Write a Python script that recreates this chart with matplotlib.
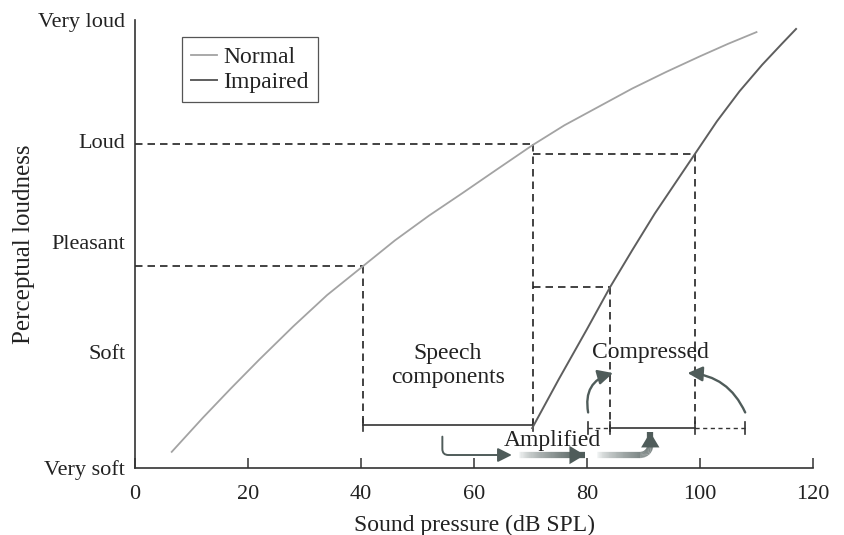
import numpy as np
import matplotlib
matplotlib.use('Agg')
import matplotlib.pyplot as plt
from matplotlib.collections import LineCollection
from matplotlib.colors import to_rgb

# Loudness growth curves (dB SPL vs perceptual loudness 0-100)
normal_db = [6.5, 12, 17, 22, 28, 34, 40.4, 46, 52, 58, 64, 70.4, 76, 82, 88, 94, 100, 105, 110]
normal_loud = [3.6, 11.2, 17.8, 24.2, 31.6, 38.6, 45.1, 50.8, 56.3, 61.4, 66.6, 72.1,
               76.5, 80.6, 84.7, 88.4, 91.9, 94.7, 97.3]
impaired_db = [70.3, 75, 80, 84.1, 88, 92, 96, 99.1, 103, 107, 111, 114.5, 117]
impaired_loud = [8.9, 19.8, 31.0, 40.4, 48.6, 56.8, 64.3, 70.1, 77.4, 84.1, 90.0, 94.7, 98.0]

loud_labels = ['Very soft', 'Soft', 'Pleasant', 'Loud', 'Very loud']
loud_levels = [0, 26, 50.5, 73, 100]
db_ticks = [0, 20, 40, 60, 80, 100, 120]

# Speech range and where it lands after amplification
speech_lo, speech_hi = 40.4, 70.4
comp_lo, comp_hi = 84.1, 99.1
amp_lo, amp_hi = 80.2, 108.0
pleasant_normal = 45.1
loud_normal = 72.3
pleasant_imp = 40.4
loud_imp = 70.1

INK = '#222222'
ARROW = '#4f5c5a'
FONT = 'Liberation Serif'
FS = 16
FS_BIG = 17

plt.rcParams['font.family'] = [FONT, 'DejaVu Serif']

fig = plt.figure(figsize=(8.44, 5.35), dpi=100)
ax = fig.add_axes([135 / 844, 1 - 468 / 535, 678 / 844, 448 / 535])
ax.set_xlim(0, 120)
ax.set_ylim(0, 100)

# curves
ax.plot(normal_db, normal_loud, color='#a3a3a3', lw=1.3, label='Normal', zorder=3)
ax.plot(impaired_db, impaired_loud, color='#5e5e5e', lw=1.4, label='Impaired', zorder=3)

dash = dict(color=INK, lw=1.2, ls=(0, (4.5, 3)))
brk_y = 9.6
# normal-ear guides
ax.plot([0, speech_lo], [pleasant_normal, pleasant_normal], **dash)
ax.plot([speech_lo, speech_lo], [pleasant_normal, brk_y], **dash)
ax.plot([0, speech_hi], [loud_normal, loud_normal], **dash)
ax.plot([speech_hi, speech_hi], [loud_normal, brk_y], **dash)
# impaired-ear guides
ax.plot([speech_hi, comp_hi], [loud_imp, loud_imp], **dash)
ax.plot([comp_hi, comp_hi], [loud_imp, brk_y - 0.6], **dash)
ax.plot([speech_hi, comp_lo], [pleasant_imp, pleasant_imp], **dash)
ax.plot([comp_lo, comp_lo], [pleasant_imp, brk_y - 2.0], **dash)

# range brackets
solid = dict(color='#333333', lw=1.2)
tick_h = 1.4
ax.plot([speech_lo, speech_hi], [brk_y, brk_y], **solid)
for x in (speech_lo, speech_hi):
    ax.plot([x, x], [brk_y - tick_h, brk_y + tick_h], **solid)
by2 = brk_y - 0.7
ax.plot([comp_lo, comp_hi], [by2, by2], **solid)
ax.plot([amp_lo, comp_lo], [by2, by2], color='#333333', lw=1.0, ls=(0, (3, 2.5)))
ax.plot([comp_hi, amp_hi], [by2, by2], color='#333333', lw=1.0, ls=(0, (3, 2.5)))
for x in (amp_lo, comp_lo, comp_hi, amp_hi):
    ax.plot([x, x], [by2 - tick_h, by2 + tick_h], **solid)

# labels in the plot
ax.text(55.4, 22.8, 'Speech\ncomponents', ha='center', va='center',
        fontsize=FS_BIG, color=INK, linespacing=1.2)
ax.text(91.2, 25.7, 'Compressed', ha='center', va='center', fontsize=FS_BIG, color=INK)
ax.text(73.8, 6.1, 'Amplified', ha='center', va='center', fontsize=FS_BIG, color=INK, zorder=5)

thin_head = '-|>,head_length=0.6,head_width=0.3'

# thin arrow: speech components -> amplifier
ax.annotate('', xy=(66.7, 2.9), xytext=(54.4, 7.0),
            arrowprops=dict(arrowstyle=thin_head, color=ARROW, lw=1.4, mutation_scale=14,
                            connectionstyle='angle,angleA=-90,angleB=180,rad=6',
                            shrinkA=0, shrinkB=0))

# curved arrows into the compressed range
ax.annotate('', xy=(84.6, 21.2), xytext=(80.2, 12.4),
            arrowprops=dict(arrowstyle=thin_head, color=ARROW, lw=1.7, mutation_scale=15,
                            connectionstyle='arc3,rad=-0.45', shrinkA=0, shrinkB=0))
ax.annotate('', xy=(97.8, 21.2), xytext=(108.0, 12.4),
            arrowprops=dict(arrowstyle=thin_head, color=ARROW, lw=1.7, mutation_scale=15,
                            connectionstyle='arc3,rad=0.3', shrinkA=0, shrinkB=0))


def gradient_arrow(xs, ys, lw=4.5):
    xs = np.asarray(xs)
    ys = np.asarray(ys)
    pts = np.column_stack([xs, ys])
    segs = np.stack([pts[:-1], pts[1:]], axis=1)
    c0 = np.array(to_rgb('#f4f6f6'))
    c1 = np.array(to_rgb(ARROW))
    t = np.linspace(0, 1, len(segs)) ** 0.7
    cols = c0[None, :] * (1 - t[:, None]) + c1[None, :] * t[:, None]
    ax.add_collection(LineCollection(segs, colors=cols, linewidths=lw,
                                     capstyle='butt', zorder=4))
    ax.annotate('', xy=(xs[-1], ys[-1]), xytext=(xs[-4], ys[-4]),
                arrowprops=dict(arrowstyle='-|>,head_length=0.5,head_width=0.3',
                                color=ARROW, lw=0, mutation_scale=22,
                                shrinkA=0, shrinkB=0),
                zorder=5)


# straight gradient arrow
gx = np.linspace(68.0, 79.6, 60)
gradient_arrow(gx, np.full_like(gx, 2.9))

# gradient arrow that bends upward
rx, ry = 1.8, 2.2
hx = np.linspace(81.8, 91.2 - rx, 50)
th = np.linspace(-np.pi / 2, 0, 20)
cx = (91.2 - rx) + rx * np.cos(th)
cy = (2.9 + ry) + ry * np.sin(th)
vy = np.linspace(2.9 + ry, 8.0, 12)
bx = np.concatenate([hx, cx[1:], np.full(len(vy) - 1, 91.2)])
by = np.concatenate([np.full_like(hx, 2.9), cy[1:], vy[1:]])
gradient_arrow(bx, by)

# axes styling
for s in ('top', 'right'):
    ax.spines[s].set_visible(False)
for s in ('left', 'bottom'):
    ax.spines[s].set_color('#333333')
    ax.spines[s].set_linewidth(1.2)

ax.set_xticks(db_ticks)
ax.set_xticklabels([str(v) for v in db_ticks], fontsize=FS, color=INK)
ax.tick_params(axis='x', direction='in', length=7, width=1.1, color='#333333', pad=12)
ax.set_yticks(loud_levels)
ax.set_yticklabels(loud_labels, fontsize=FS, color=INK)
ax.tick_params(axis='y', length=0, pad=7)
ax.set_yticks([100], minor=True)
ax.tick_params(axis='y', which='minor', direction='in', length=8, width=1.1, color='#333333')

ax.set_xlabel('Sound pressure (dB SPL)', fontsize=FS_BIG, color=INK, labelpad=8)
ax.set_ylabel('Perceptual loudness', fontsize=18, color=INK, labelpad=2)

leg = ax.legend(loc='upper left', bbox_to_anchor=(182 / 844, 1 - 37 / 535),
                bbox_transform=fig.transFigure, borderaxespad=0, fancybox=False,
                framealpha=1, edgecolor='#555555', fontsize=FS_BIG, handlelength=1.1,
                handletextpad=0.25, labelspacing=0.15, borderpad=0.4)
leg.get_frame().set_linewidth(0.9)
for txt in leg.get_texts():
    txt.set_color(INK)

fig.savefig('out.png', dpi=100, facecolor='white')
